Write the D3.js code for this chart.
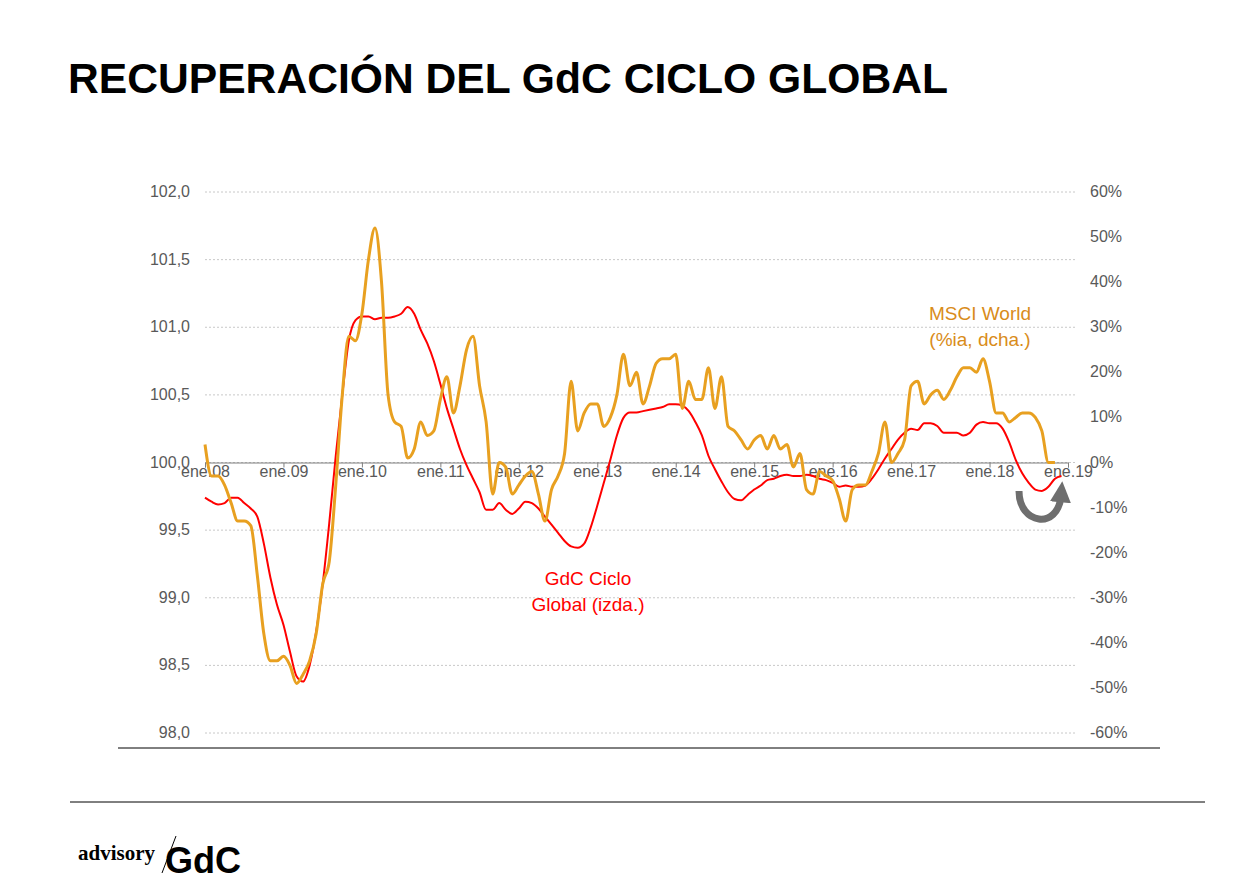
<!DOCTYPE html>
<html>
<head>
<meta charset="utf-8">
<script src="https://cdn.jsdelivr.net/npm/d3@7"></script>
<style>
body { margin: 0; background: #fff; }
svg { font-family: "Liberation Sans", Arial, sans-serif; }
</style>
</head>
<body>
<div id="graphHolder"></div>
<script>
// monthly, starting ene.08
var gdcCiclo = [
    99.74, 99.71, 99.69, 99.70, 99.74, 99.74, 99.70, 99.66, 99.60, 99.40, 99.15, 98.95,
    98.80, 98.60, 98.42, 98.38, 98.50, 98.75, 99.10, 99.55, 100.05, 100.50, 100.90, 101.05,
    101.08, 101.08, 101.06, 101.07, 101.07, 101.08, 101.10, 101.15, 101.10, 100.98, 100.88, 100.75,
    100.58, 100.40, 100.25, 100.10, 99.98, 99.88, 99.78, 99.65, 99.65, 99.70, 99.65, 99.62,
    99.66, 99.71, 99.70, 99.66, 99.60, 99.54, 99.48, 99.42, 99.38, 99.37, 99.40, 99.52,
    99.68, 99.85, 100.02, 100.20, 100.33, 100.37, 100.37, 100.38, 100.39, 100.40, 100.41, 100.43,
    100.43, 100.42, 100.38, 100.30, 100.20, 100.05, 99.95, 99.86, 99.78, 99.73, 99.72, 99.76,
    99.80, 99.83, 99.87, 99.88, 99.90, 99.91, 99.90, 99.90, 99.91, 99.90, 99.88, 99.87,
    99.85, 99.82, 99.83, 99.82, 99.82, 99.83, 99.88, 99.95, 100.03, 100.10, 100.17, 100.22,
    100.25, 100.24, 100.29, 100.29, 100.27, 100.22, 100.22, 100.22, 100.20, 100.22, 100.28, 100.30,
    100.29, 100.29, 100.25, 100.15, 100.02, 99.92, 99.85, 99.80, 99.79, 99.82, 99.88, 99.90
];
var msciWorld = [
    4, -3, -3, -5, -9, -13, -13, -14, -25, -38, -44, -44,
    -43, -45, -49, -47, -44, -38, -27, -22, -5, 15, 28, 27,
    33, 45, 52, 40, 15, 9, 8, 1, 3, 9, 6, 7,
    14, 19, 11, 17, 25, 28, 17, 9, -7, 0, -1, -7,
    -5, -3, -2, -7, -13, -6, -3, 2, 18, 7, 11, 13,
    13, 8, 10, 15, 24, 17, 20, 13, 17, 22, 23, 23,
    24, 12, 18, 14, 14, 21, 12, 19, 8, 7, 5, 3,
    5, 6, 3, 6, 3, 4, -1, 2, -6, -7, -2, -3,
    -4, -8, -13, -6, -5, -5, -2, 2, 9, 0, 2, 5,
    17, 18, 13, 15, 16, 14, 16, 19, 21, 21, 20, 23,
    18, 11, 11, 9, 10, 11, 11, 10, 7, 0, 0
];
var yearLabels = ["ene.08", "ene.09", "ene.10", "ene.11", "ene.12", "ene.13",
    "ene.14", "ene.15", "ene.16", "ene.17", "ene.18", "ene.19"];
var leftTicks = [98.0, 98.5, 99.0, 99.5, 100.0, 100.5, 101.0, 101.5, 102.0];
var rightTicks = [-60, -50, -40, -30, -20, -10, 0, 10, 20, 30, 40, 50, 60];

var svg = d3.select("#graphHolder").append("svg")
        .attr("width", 1234).attr("height", 893);

svg.append("text").attr("x", 68).attr("y", 93)
        .attr("font-size", 42).attr("font-weight", "bold").attr("fill", "#000")
        .attr("textLength", 880).attr("lengthAdjust", "spacingAndGlyphs")
        .text("RECUPERACIÓN DEL GdC CICLO GLOBAL");

var x = d3.scaleLinear().domain([0, 132]).range([205, 1068]);
var yL = d3.scaleLinear().domain([98, 102]).range([733, 192]);
var yR = d3.scaleLinear().domain([-60, 60]).range([733, 192]);

// grid
svg.append("g").selectAll("line").data(leftTicks).join("line")
        .attr("x1", 205).attr("x2", 1075)
        .attr("y1", d => yL(d)).attr("y2", d => yL(d))
        .attr("stroke", "#c8c8c8").attr("stroke-dasharray", "2,2");

var fmt = d3.format(".1f");
svg.append("g").selectAll("text").data(leftTicks).join("text")
        .attr("x", 190).attr("y", d => yL(d) + 5)
        .attr("text-anchor", "end").attr("font-size", 16).attr("fill", "#595959")
        .text(d => fmt(d).replace(".", ","));
svg.append("g").selectAll("text").data(rightTicks).join("text")
        .attr("x", 1090).attr("y", d => yR(d) + 5)
        .attr("font-size", 16).attr("fill", "#595959")
        .text(d => d + "%");

// x axis at 100
var xa = svg.append("g").attr("transform", "translate(0," + yL(100) + ")")
        .call(d3.axisBottom(x).tickValues(d3.range(0, 133, 12)).tickSize(5).tickFormat((d, i) => yearLabels[i]));
xa.select(".domain").attr("stroke", "#7f7f7f");
xa.selectAll(".tick line").attr("stroke", "#7f7f7f");
xa.selectAll("text").attr("font-size", 16).attr("fill", "#595959")
        .attr("font-family", "Liberation Sans, Arial, sans-serif").attr("dy", "0.4em");

svg.append("line").attr("x1", 118).attr("x2", 1160).attr("y1", 748).attr("y2", 748)
        .attr("stroke", "#000");
svg.append("line").attr("x1", 70).attr("x2", 1205).attr("y1", 802).attr("y2", 802)
        .attr("stroke", "#000");

var redLine = d3.line().x((d, i) => x(i)).y(d => yL(d)).curve(d3.curveMonotoneX);
var orgLine = d3.line().x((d, i) => x(i)).y(d => yR(d)).curve(d3.curveMonotoneX);

svg.append("path").datum(gdcCiclo).attr("fill", "none")
        .attr("stroke", "#ff0000").attr("stroke-width", 2).attr("d", redLine);
svg.append("path").datum(msciWorld).attr("fill", "none")
        .attr("stroke", "#e8a020").attr("stroke-width", 3)
        .attr("stroke-linejoin", "round").attr("d", orgLine);

// labels
svg.append("text").attr("x", 980).attr("y", 320).attr("text-anchor", "middle")
        .attr("font-size", 19).attr("fill", "#d98c1a").text("MSCI World");
svg.append("text").attr("x", 980).attr("y", 346).attr("text-anchor", "middle")
        .attr("font-size", 19).attr("fill", "#d98c1a").text("(%ia, dcha.)");
svg.append("text").attr("x", 588).attr("y", 585).attr("text-anchor", "middle")
        .attr("font-size", 19).attr("fill", "#ff0000").text("GdC Ciclo");
svg.append("text").attr("x", 588).attr("y", 611).attr("text-anchor", "middle")
        .attr("font-size", 19).attr("fill", "#ff0000").text("Global (izda.)");

// gray arrow
var defs = svg.append("defs");
defs.append("marker").attr("id", "ah").attr("viewBox", "0 0 10 10")
        .attr("refX", 3).attr("refY", 5).attr("markerWidth", 3).attr("markerHeight", 3)
        .attr("orient", "auto")
        .append("path").attr("d", "M0,0L10,5L0,10Z").attr("fill", "#6e6e6e");
svg.append("path").attr("d", "M1019,491 C1019,525 1058,530 1061,496")
        .attr("fill", "none").attr("stroke", "#6e6e6e").attr("stroke-width", 7)
        .attr("marker-end", "url(#ah)");

// logo
svg.append("text").attr("x", 78).attr("y", 860).attr("font-family", "Liberation Serif, serif")
        .attr("font-size", 21).attr("font-weight", "bold").attr("fill", "#000").text("advisory");
svg.append("line").attr("x1", 162).attr("y1", 873).attr("x2", 176).attr("y2", 836)
        .attr("stroke", "#000").attr("stroke-width", 1);
svg.append("text").attr("x", 165).attr("y", 873).attr("font-family", "Liberation Sans, Arial, sans-serif")
        .attr("font-size", 36).attr("font-weight", "bold").attr("fill", "#000").text("GdC");
</script>
</body>
</html>
